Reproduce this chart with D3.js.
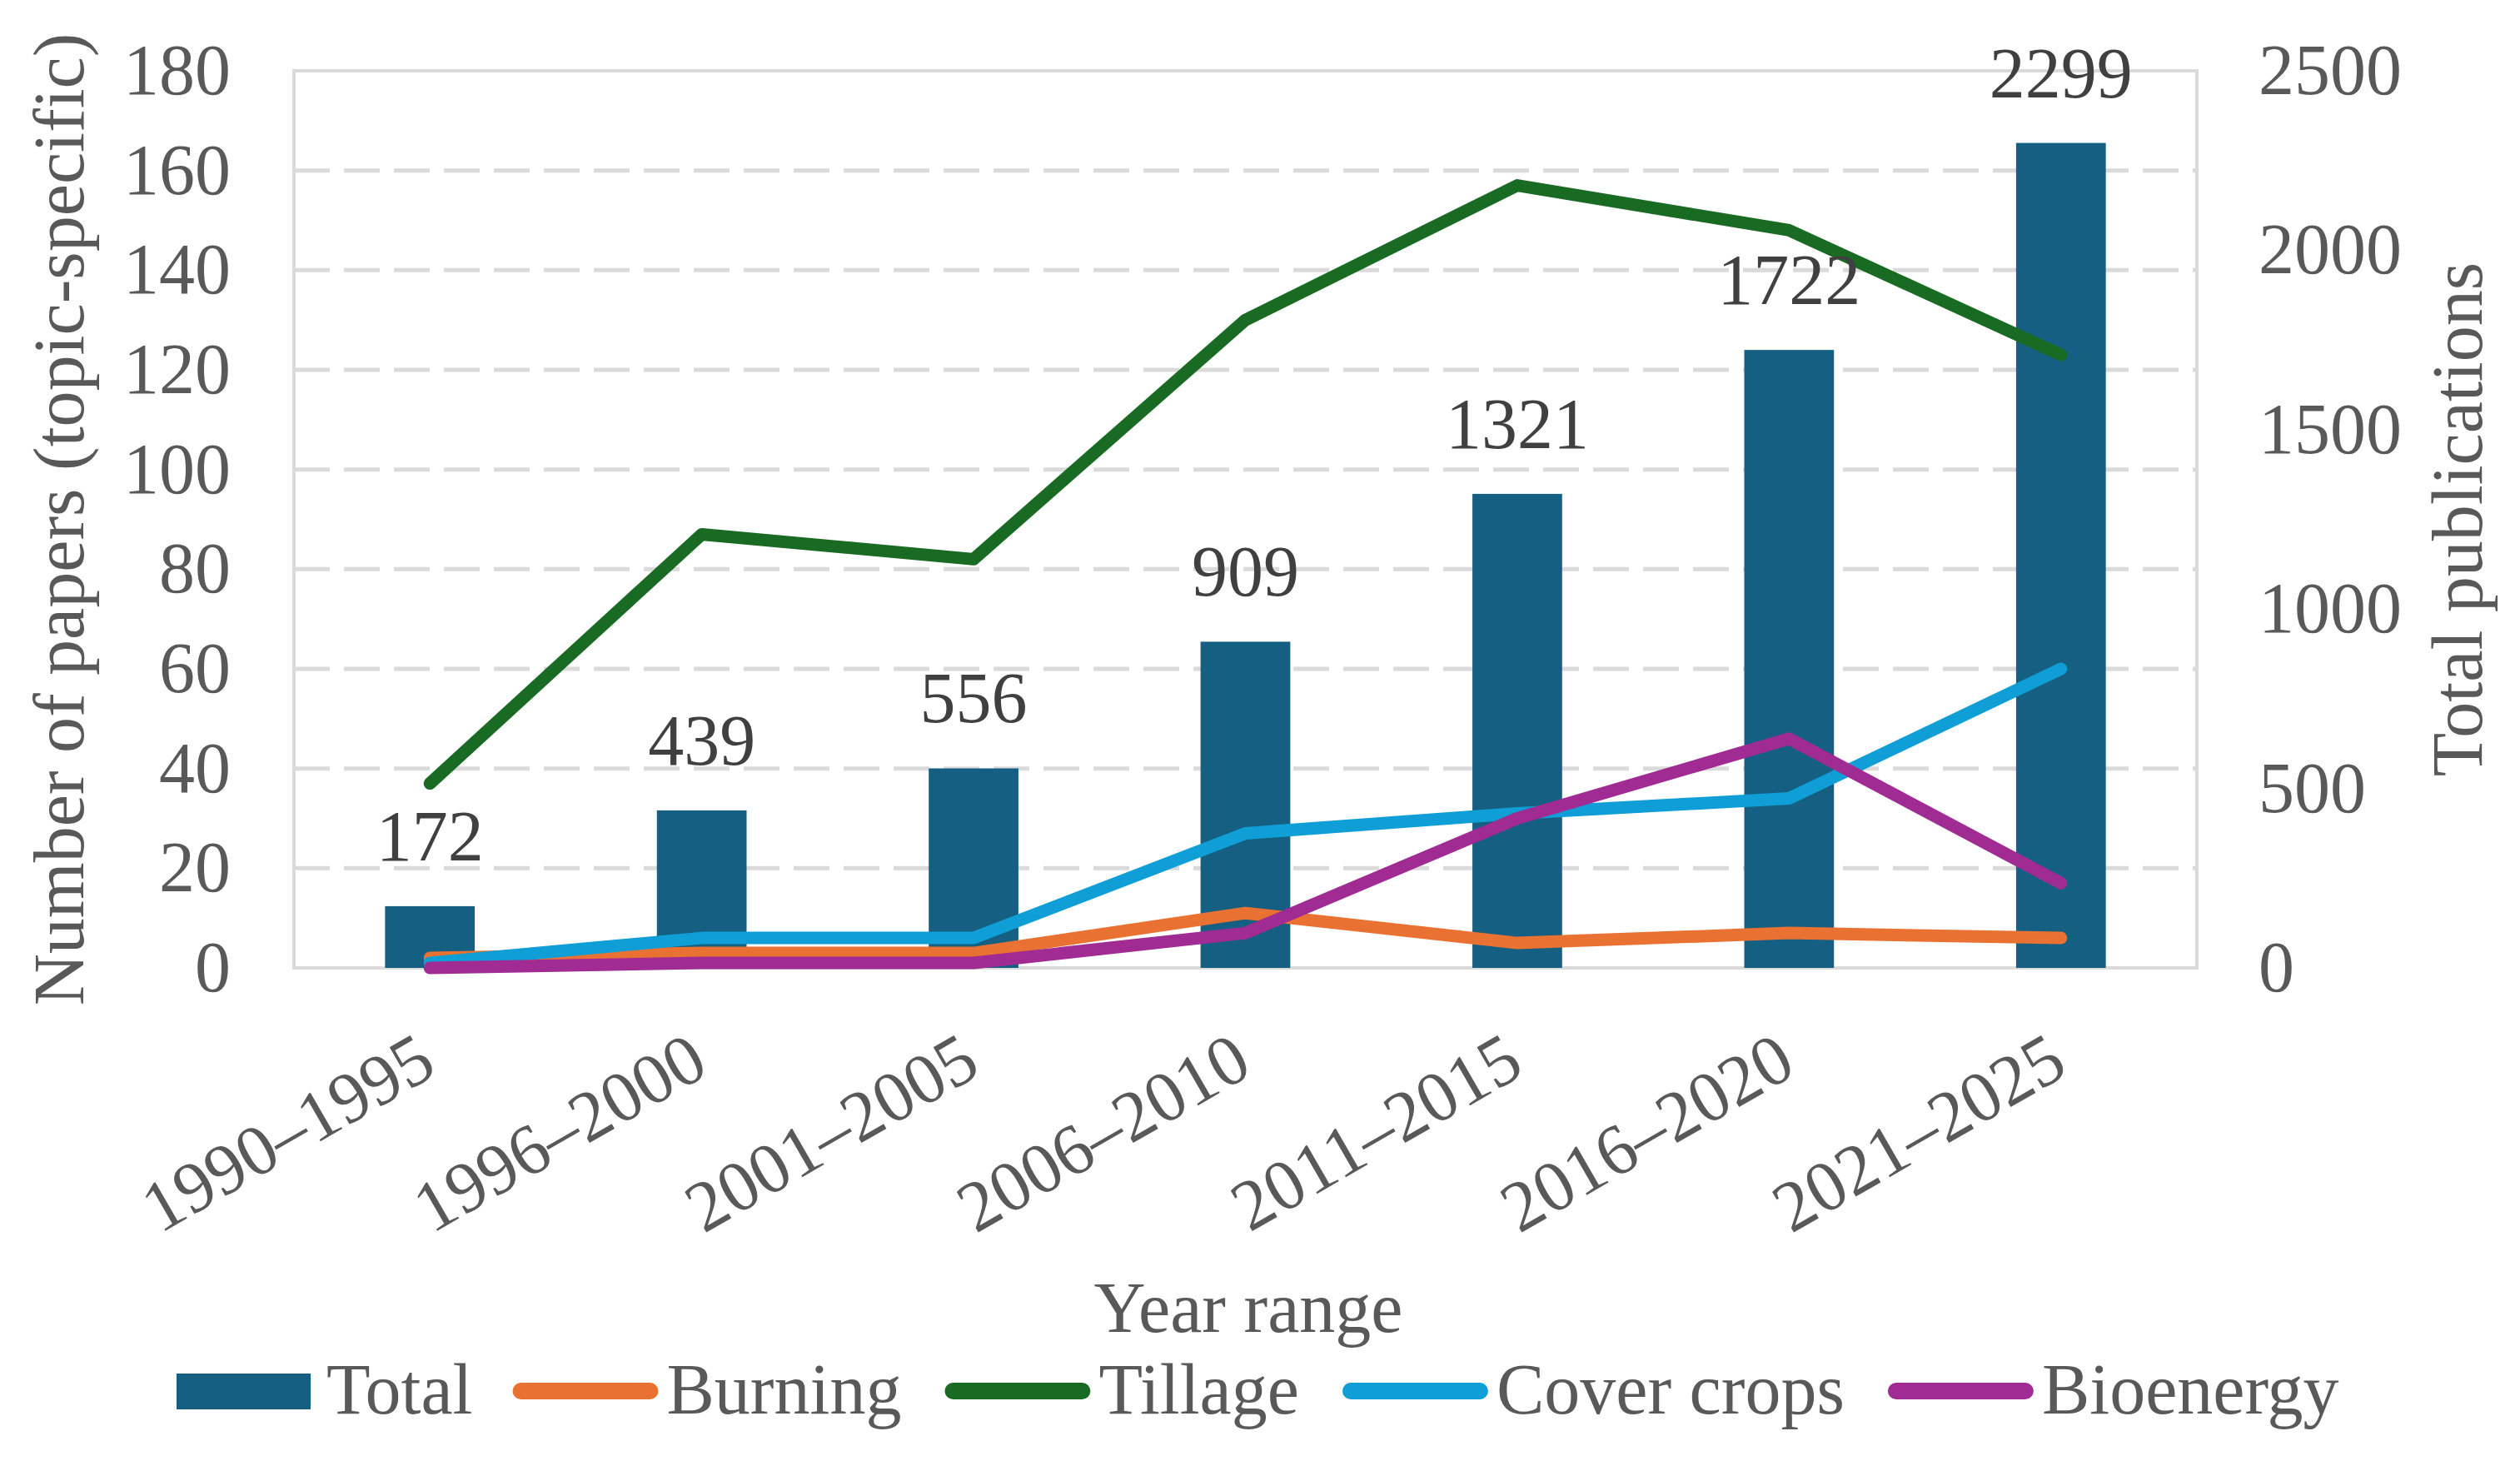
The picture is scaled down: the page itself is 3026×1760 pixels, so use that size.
<!DOCTYPE html>
<html lang="en">
<head>
    <meta charset="UTF-8">
    <title>Topic-specific papers and total publications by year range</title>
    <style>
        body { margin: 0; background: #fff; }
        svg { display: block; }
        text { font-family: "Times New Roman", "Liberation Serif", serif; }
    </style>
    <script src="https://cdn.jsdelivr.net/npm/d3@7"></script>
</head>
<body>
<svg id="svg_main"></svg>
<script>
    // data
    const yearRanges = ["1990–1995", "1996–2000", "2001–2005", "2006–2010", "2011–2015", "2016–2020", "2021–2025"];
    const totalPubs  = [172, 439, 556, 909, 1321, 1722, 2299];
    const burning    = [2, 3, 3, 11, 5, 7, 6];
    const tillage    = [37, 87, 82, 130, 157, 148, 123];
    const coverCrops = [1, 6, 6, 27, 31, 34, 60];
    const bioenergy  = [0, 1, 1, 7, 30, 46, 17];
    const leftTicks  = [0, 20, 40, 60, 80, 100, 120, 140, 160, 180];
    const rightTicks = [0, 500, 1000, 1500, 2000, 2500];

    const seriesNames  = ["Burning", "Tillage", "Cover crops", "Bioenergy"];
    const seriesValues = [burning, tillage, coverCrops, bioenergy];
    const seriesColors = ["#E97132", "#196B24", "#0F9ED5", "#A02B93"];
    const barColor = "#156082";

    const width = 3026, height = 1760;
    const plot = {left: 353, right: 2638, top: 85, bottom: 1162};
    const fontSize = 86;
    const serif = "Times New Roman, Liberation Serif, serif";

    const svg = d3.select("#svg_main")
        .attr("width", width)
        .attr("height", height)
        .attr("viewBox", [0, 0, width, height]);

    const x = d3.scaleBand()
        .domain(yearRanges)
        .range([plot.left, plot.right])
        .paddingInner(0.67)
        .paddingOuter(0.335);
    const yLeft = d3.scaleLinear().domain([0, 180]).range([plot.bottom, plot.top]);
    const yRight = d3.scaleLinear().domain([0, 2500]).range([plot.bottom, plot.top]);
    const xc = d => x(d) + x.bandwidth() / 2;

    // dashed gridlines
    svg.append("g")
        .selectAll("line")
        .data(leftTicks.filter(t => t > 0 && t < 180))
        .join("line")
        .attr("x1", plot.left).attr("x2", plot.right)
        .attr("y1", d => yLeft(d)).attr("y2", d => yLeft(d))
        .attr("stroke", "#dadada")
        .attr("stroke-width", 5)
        .attr("stroke-dasharray", "43,17");

    // plot frame
    svg.append("rect")
        .attr("x", plot.left).attr("y", plot.top)
        .attr("width", plot.right - plot.left)
        .attr("height", plot.bottom - plot.top)
        .attr("fill", "none")
        .attr("stroke", "#dadada")
        .attr("stroke-width", 4);

    function styleAxis(g) {
        g.attr("font-family", serif).attr("font-size", fontSize);
        g.select(".domain").remove();
        g.selectAll("text").attr("fill", "#595959");
    }

    // left axis
    svg.append("g")
        .attr("transform", `translate(${plot.left},0)`)
        .call(d3.axisLeft(yLeft).tickValues(leftTicks).tickSize(0).tickPadding(76))
        .call(styleAxis);

    // right axis
    svg.append("g")
        .attr("transform", `translate(${plot.right},0)`)
        .call(d3.axisRight(yRight).tickValues(rightTicks).tickFormat(d3.format("d")).tickSize(0).tickPadding(74))
        .call(styleAxis);

    // x axis labels, rotated
    const bottomAxis = svg.append("g")
        .attr("transform", `translate(0,${plot.bottom})`)
        .call(d3.axisBottom(x).tickSize(0))
        .call(styleAxis);
    bottomAxis.selectAll("text")
        .attr("text-anchor", "end")
        .attr("y", 0)
        .attr("dy", "0.35em")
        .attr("transform", "translate(-4,100) rotate(-30)");

    // axis titles
    svg.append("text")
        .attr("transform", `translate(100,${(plot.top + plot.bottom) / 2}) rotate(-90)`)
        .attr("text-anchor", "middle")
        .attr("font-size", fontSize)
        .attr("fill", "#595959")
        .text("Number of papers (topic-specific)");
    svg.append("text")
        .attr("transform", `translate(2980,${(plot.top + plot.bottom) / 2}) rotate(-90)`)
        .attr("text-anchor", "middle")
        .attr("font-size", fontSize)
        .attr("fill", "#595959")
        .text("Total publications");
    svg.append("text")
        .attr("x", 1499).attr("y", 1599)
        .attr("text-anchor", "middle")
        .attr("font-size", fontSize)
        .attr("fill", "#595959")
        .text("Year range");

    // bars (right scale)
    svg.append("g")
        .selectAll("rect")
        .data(yearRanges)
        .join("rect")
        .attr("x", d => x(d))
        .attr("width", x.bandwidth())
        .attr("y", (d, i) => yRight(totalPubs[i]))
        .attr("height", (d, i) => yRight(0) - yRight(totalPubs[i]))
        .attr("fill", barColor);

    // lines (left scale)
    const line = d3.line()
        .x((v, i) => xc(yearRanges[i]))
        .y(v => yLeft(v));
    svg.append("g")
        .selectAll("path")
        .data(seriesValues)
        .join("path")
        .attr("d", d => line(d))
        .attr("fill", "none")
        .attr("stroke", (d, i) => seriesColors[i])
        .attr("stroke-width", 15)
        .attr("stroke-linecap", "round")
        .attr("stroke-linejoin", "round");

    // data labels on bars
    svg.append("g")
        .selectAll("text")
        .data(yearRanges)
        .join("text")
        .attr("x", d => xc(d))
        .attr("y", (d, i) => yRight(totalPubs[i]) - 55)
        .attr("text-anchor", "middle")
        .attr("font-size", fontSize)
        .attr("fill", "#404040")
        .text((d, i) => totalPubs[i]);

    // legend, laid out left to right
    const legend = svg.append("g").attr("transform", "translate(212,1670)");
    let lx = 0;
    const totalItem = legend.append("g").attr("transform", `translate(${lx},0)`);
    totalItem.append("rect")
        .attr("x", 0).attr("y", -21)
        .attr("width", 161).attr("height", 43)
        .attr("fill", barColor);
    const totalText = totalItem.append("text")
        .attr("x", 180).attr("y", 27)
        .attr("font-size", fontSize)
        .attr("fill", "#595959")
        .text("Total");
    lx += 180 + totalText.node().getComputedTextLength() + 48;

    seriesNames.forEach((name, i) => {
        const item = legend.append("g").attr("transform", `translate(${lx},0)`);
        item.append("line")
            .attr("x1", 10).attr("x2", 165)
            .attr("y1", 0).attr("y2", 0)
            .attr("stroke", seriesColors[i])
            .attr("stroke-width", 20)
            .attr("stroke-linecap", "round");
        const t = item.append("text")
            .attr("x", 185).attr("y", 27)
            .attr("font-size", fontSize)
            .attr("fill", "#595959")
            .text(name);
        lx += 185 + t.node().getComputedTextLength() + 52;
    });
</script>
</body>
</html>
